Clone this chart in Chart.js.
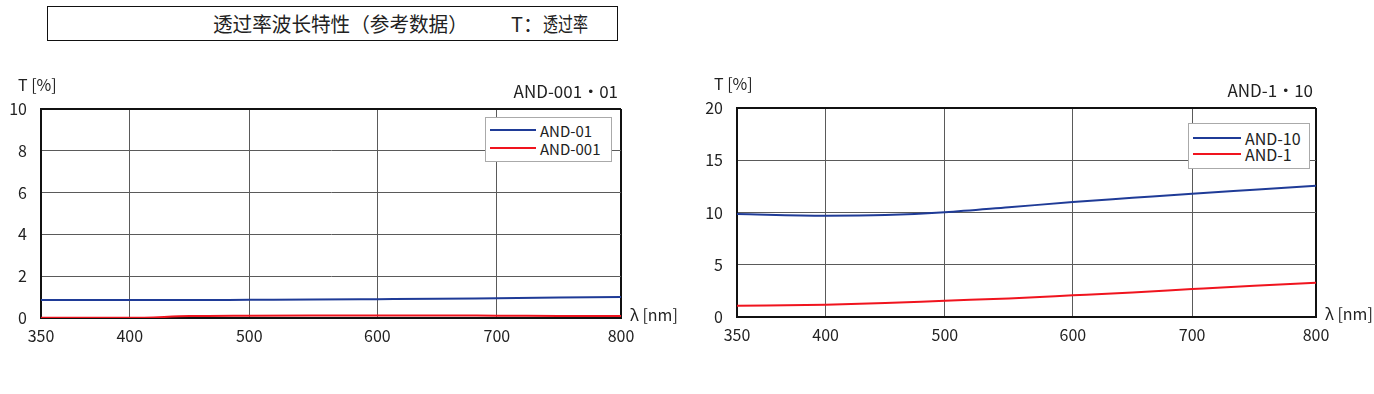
<!DOCTYPE html>
<html>
<head>
<meta charset="utf-8">
<script src="https://cdn.jsdelivr.net/npm/chart.js@4.4.1/dist/chart.umd.min.js"></script>
<style>
  body{ margin:0; background:#fff; font-family:"Noto Sans CJK SC", sans-serif; color:#222; }
  #wrap{ position:relative; width:1374px; height:394px; overflow:hidden; }
  canvas{ position:absolute; top:0; }
  #c1{ left:0; }
  #c2{ left:687px; }
  .head{ position:absolute; left:47px; top:6px; width:569px; height:33px; border:1.5px solid #111; }
  .ht{ position:absolute; top:14px; font-size:20px; line-height:20px; white-space:nowrap; transform-origin:left center; }
  .legend{ position:absolute; background:#fff; border:1px solid #aaa; box-sizing:border-box; }
  .legend .row{ display:flex; align-items:center; white-space:nowrap; }
  .legend i{ display:inline-block; height:2px; margin-right:4px; }
  #lg1{ left:485px; top:117px; width:127px; height:45px; padding:3px 0 0 4px; font-size:15px; }
  #lg1 .row{ height:18px; }
  #lg1 i{ width:46px; }
  #lg2{ left:1188px; top:123px; width:122px; height:46px; padding:6px 0 0 4px; font-size:16px; }
  #lg2 .row{ height:16px; }
  #lg2 i{ width:48px; }
</style>
</head>
<body>
<div id="wrap">
  <div class="head"></div>
  <span class="ht" style="left:213px;transform:scaleX(0.98)">透过率波长特性（参考数据）</span>
  <span class="ht" style="left:511px">T：</span>
  <span class="ht" style="left:543px;transform:scaleX(0.75)">透过率</span>
  <canvas id="c1" width="687" height="394"></canvas>
  <canvas id="c2" width="687" height="394"></canvas>
  <div class="legend" id="lg1"></div>
  <div class="legend" id="lg2"></div>
</div>
<script>
// wavelength samples (nm)
const wavelengths = [350, 400, 450, 500, 550, 600, 650, 700, 750, 800];
const xTicks = [350, 400, 500, 600, 700, 800];

// AND-001 / AND-01 sheet
const and01  = [0.86, 0.86, 0.86, 0.87, 0.88, 0.90, 0.92, 0.95, 0.98, 1.01];
const and001 = [0.01, 0.01, 0.09, 0.11, 0.12, 0.12, 0.12, 0.11, 0.10, 0.09];
const yTicks1 = [0, 2, 4, 6, 8, 10];

// AND-1 / AND-10 sheet
const and10 = [9.86, 9.70, 9.76, 10.02, 10.50, 11.00, 11.40, 11.80, 12.18, 12.56];
const and1  = [1.08, 1.18, 1.34, 1.56, 1.78, 2.07, 2.35, 2.67, 2.99, 3.27];
const yTicks2 = [0, 5, 10, 15, 20];

const BLUE = '#1f3b97';
const RED = '#f0141e';
const FONT = '"Noto Sans CJK SC", "Noto Sans", sans-serif';

// the printed x axis is not evenly spaced: map tick values onto measured fractions
const X_STRETCH = { v: [350, 400, 500, 600, 700, 800], f: [0, 0.153, 0.359, 0.580, 0.786, 1] };

class StretchScale extends Chart.LinearScale {
  toFrac(val){
    const {v, f} = X_STRETCH;
    if (val <= v[0]) return f[0] + (val - v[0]) * (f[1] - f[0]) / (v[1] - v[0]);
    for (let i = 1; i < v.length; i++) {
      if (val <= v[i] || i === v.length - 1) {
        return f[i-1] + (val - v[i-1]) * (f[i] - f[i-1]) / (v[i] - v[i-1]);
      }
    }
  }
  getPixelForValue(val){ return this.getPixelForDecimal(this.toFrac(val)); }
  getValueForPixel(px){
    const d = this.getDecimalForPixel(px);
    const {v, f} = X_STRETCH;
    for (let i = 1; i < f.length; i++) {
      if (d <= f[i] || i === f.length - 1) return v[i-1] + (d - f[i-1]) * (v[i] - v[i-1]) / (f[i] - f[i-1]);
    }
  }
}
StretchScale.id = 'stretch';
StretchScale.defaults = Chart.LinearScale.defaults;
Chart.register(StretchScale);

const axisText = {
  id: 'axisText',
  afterDraw(chart, args, o){
    const {ctx, chartArea: a} = chart;
    ctx.save();
    ctx.fillStyle = '#222';
    ctx.textBaseline = 'middle';
    ctx.textAlign = 'left';
    ctx.font = `16px ${FONT}`;
    ctx.fillText('T [%]', a.left - 23, a.top - 24);
    ctx.fillText('λ [nm]', a.right + 9, a.bottom - 3);
    ctx.textAlign = 'right';
    ctx.font = `17px ${FONT}`;
    ctx.fillText(o.title, a.right - 3, a.top - 17);
    ctx.restore();
  }
};

function pts(ys){ return wavelengths.map((w, i) => ({x: w, y: ys[i]})); }

function line(label, ys, color){
  return { label, data: pts(ys), borderColor: color, backgroundColor: color,
           borderWidth: 2, pointRadius: 0, cubicInterpolationMode: 'monotone', fill: false };
}

function makeChart(el, title, sets, yMax, yTicks, pad, yWidth, xHeight){
  return new Chart(el, {
    type: 'line',
    data: { datasets: sets },
    options: {
      responsive: false,
      animation: false,
      layout: { padding: pad },
      plugins: { legend: { display: false }, tooltip: { enabled: false }, axisText: { title } },
      scales: {
        x: {
          type: 'stretch', min: 350, max: 800,
          afterBuildTicks: s => { s.ticks = xTicks.map(value => ({value})); },
          afterFit: s => { s.height = xHeight; },
          border: { color: '#111', width: 2 },
          grid: {
            drawTicks: false,
            color: c => c.tick && c.tick.value === 800 ? '#111' : '#5a5a5a',
            lineWidth: c => c.tick && c.tick.value === 800 ? 2 : 1
          },
          ticks: { color: '#222', padding: 8, font: { family: FONT, size: 16 }, maxRotation: 0, callback: v => String(v) }
        },
        y: {
          min: 0, max: yMax,
          afterBuildTicks: s => { s.ticks = yTicks.map(value => ({value})); },
          afterFit: s => { s.width = yWidth; },
          border: { color: '#111', width: 2 },
          grid: {
            drawTicks: false,
            color: c => c.tick && c.tick.value === yMax ? '#111' : '#5a5a5a',
            lineWidth: c => c.tick && c.tick.value === yMax ? 2 : 1
          },
          ticks: { color: '#222', padding: 14, font: { family: FONT, size: 16 }, callback: v => String(v) }
        }
      }
    },
    plugins: [axisText]
  });
}

function htmlLegend(chart, el){
  el.innerHTML = chart.data.datasets
    .map(d => `<div class="row"><i style="background:${d.borderColor}"></i>${d.label}</div>`).join('');
}

document.fonts.load(`16px ${FONT}`).finally(() => {
  const c1 = makeChart(document.getElementById('c1'), 'AND-001·01',
    [line('AND-01', and01, BLUE), line('AND-001', and001, RED)],
    10, yTicks1, { left: 0, top: 109, right: 66, bottom: 0 }, 41, 76);
  const c2 = makeChart(document.getElementById('c2'), 'AND-1·10',
    [line('AND-10', and10, BLUE), line('AND-1', and1, RED)],
    20, yTicks2, { left: 0, top: 108, right: 58, bottom: 0 }, 50, 77);
  htmlLegend(c1, document.getElementById('lg1'));
  htmlLegend(c2, document.getElementById('lg2'));
});
</script>
</body>
</html>
